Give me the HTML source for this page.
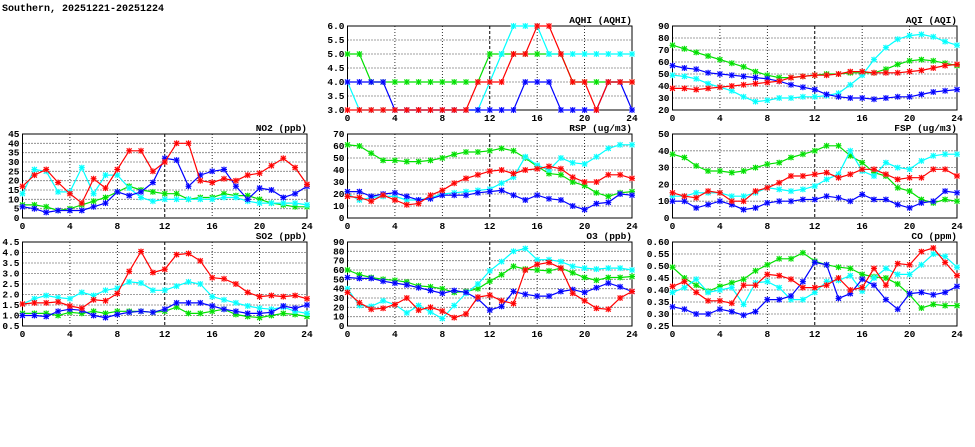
<!DOCTYPE html>
<html><head><meta charset="utf-8"><style>
body{margin:0;background:#fff;}
svg{display:block;font-family:"Liberation Mono",monospace;font-size:9.5px;font-weight:bold;}
</style></head><body>
<svg id="s" width="975" height="447" viewBox="0 0 975 447">
<text x="2" y="11" font-size="10">Southern, 20251221-20251224</text>

<g transform="translate(347.5,26)" id="p0">
<text x="284.5" y="-3" text-anchor="end">AQHI (AQHI)</text>
<g text-anchor="end"><text x="-3" y="87">3.0</text><text x="-3" y="73">3.5</text><text x="-3" y="59">4.0</text><text x="-3" y="45">4.5</text><text x="-3" y="31">5.0</text><text x="-3" y="17">5.5</text><text x="-3" y="3">6.0</text></g>
</g>
<g transform="translate(672.5,26)" id="p1">
<text x="284.5" y="-3" text-anchor="end">AQI (AQI)</text>
<g text-anchor="end"><text x="-3" y="87">20</text><text x="-3" y="75">30</text><text x="-3" y="63">40</text><text x="-3" y="51">50</text><text x="-3" y="39">60</text><text x="-3" y="27">70</text><text x="-3" y="15">80</text><text x="-3" y="3">90</text></g>
</g>
<g transform="translate(22.5,134)" id="p2">
<text x="284.5" y="-3" text-anchor="end">NO2 (ppb)</text>
<g text-anchor="end"><text x="-3" y="87">0</text><text x="-3" y="77.7">5</text><text x="-3" y="68.3">10</text><text x="-3" y="59">15</text><text x="-3" y="49.7">20</text><text x="-3" y="40.3">25</text><text x="-3" y="31">30</text><text x="-3" y="21.7">35</text><text x="-3" y="12.3">40</text><text x="-3" y="3">45</text></g>
</g>
<g transform="translate(347.5,134)" id="p3">
<text x="284.5" y="-3" text-anchor="end">RSP (ug/m3)</text>
<g text-anchor="end"><text x="-3" y="87">0</text><text x="-3" y="75">10</text><text x="-3" y="63">20</text><text x="-3" y="51">30</text><text x="-3" y="39">40</text><text x="-3" y="27">50</text><text x="-3" y="15">60</text><text x="-3" y="3">70</text></g>
</g>
<g transform="translate(672.5,134)" id="p4">
<text x="284.5" y="-3" text-anchor="end">FSP (ug/m3)</text>
<g text-anchor="end"><text x="-3" y="87">0</text><text x="-3" y="70.2">10</text><text x="-3" y="53.4">20</text><text x="-3" y="36.6">30</text><text x="-3" y="19.8">40</text><text x="-3" y="3">50</text></g>
</g>
<g transform="translate(22.5,242)" id="p5">
<text x="284.5" y="-3" text-anchor="end">SO2 (ppb)</text>
<g text-anchor="end"><text x="-3" y="87">0.5</text><text x="-3" y="76.5">1.0</text><text x="-3" y="66">1.5</text><text x="-3" y="55.5">2.0</text><text x="-3" y="45">2.5</text><text x="-3" y="34.5">3.0</text><text x="-3" y="24">3.5</text><text x="-3" y="13.5">4.0</text><text x="-3" y="3">4.5</text></g>
</g>
<g transform="translate(347.5,242)" id="p6">
<text x="284.5" y="-3" text-anchor="end">O3 (ppb)</text>
<g text-anchor="end"><text x="-3" y="87">0</text><text x="-3" y="77.7">10</text><text x="-3" y="68.3">20</text><text x="-3" y="59">30</text><text x="-3" y="49.7">40</text><text x="-3" y="40.3">50</text><text x="-3" y="31">60</text><text x="-3" y="21.7">70</text><text x="-3" y="12.3">80</text><text x="-3" y="3">90</text></g>
</g>
<g transform="translate(672.5,242)" id="p7">
<text x="284.5" y="-3" text-anchor="end">CO (ppm)</text>
<g text-anchor="end"><text x="-3" y="87">0.25</text><text x="-3" y="75">0.30</text><text x="-3" y="63">0.35</text><text x="-3" y="51">0.40</text><text x="-3" y="39">0.45</text><text x="-3" y="27">0.50</text><text x="-3" y="15">0.55</text><text x="-3" y="3">0.60</text></g>
</g>
</svg>
<script>
var W=284.5,H=84,NS="http://www.w3.org/2000/svg";
function el(p,t,a){var e=document.createElementNS(NS,t);for(var k in a)e.setAttribute(k,a[k]);p.appendChild(e);return e;}
var P=[
{min:3,max:6,step:0.5,d:{g:[5,5,4,4,4,4,4,4,4,4,4,4,5,5,5,5,5,5,5,4,4,4,4,4,4],c:[4,3,3,3,3,3,3,3,3,3,3,3,4,5,6,6,6,5,5,5,5,5,5,5,5],b:[4,4,4,4,3,3,3,3,3,3,3,3,3,3,3,4,4,4,3,3,3,3,4,4,3],r:[3,3,3,3,3,3,3,3,3,3,3,4,4,4,5,5,6,6,5,4,4,3,4,4,4]}},
{min:20,max:90,step:10,d:{g:[74,71,68,65,62,59,56,52,49,47,47,48,49,50,50,51,51,51,54,58,61,62,61,59,57],c:[49,48,46,42,39,36,31,27,28,30,30,31,31,32,34,41,49,62,72,79,82,83,81,77,74],b:[57,55,54,51,50,49,48,47,46,44,41,39,37,33,31,30,30,29,30,31,31,33,35,36,37],r:[38,38,37,38,39,40,41,42,43,44,47,48,49,49,50,52,52,51,51,51,52,53,55,57,58]}},
{min:0,max:45,step:5,d:{g:[7,7,6,4,5,7,9,11,14,17,15,14,13,13,10,11,11,13,12,12,10,8,7,6,6],c:[13,26,25,14,14,27,13,23,23,16,11,9,10,10,10,10,10,11,11,9,8,8,8,8,7],b:[6,5,3,4,4,4,6,8,14,12,14,19,32,31,17,23,25,26,17,10,16,15,11,13,17],r:[17,23,26,19,13,8,21,16,26,36,36,25,30,40,40,20,19,21,20,23,24,28,32,27,18]}},
{min:0,max:70,step:10,d:{g:[61,60,54,48,48,47,47,48,50,53,55,55,56,58,56,50,43,37,36,30,27,21,18,21,22],c:[20,15,17,18,18,15,15,17,20,21,22,23,24,29,34,51,44,40,50,46,45,51,58,61,61],b:[22,22,18,20,21,18,15,16,19,19,19,21,22,23,19,15,19,16,15,10,7,12,13,20,19],r:[18,17,14,19,15,11,12,19,23,29,33,36,39,40,37,40,41,43,41,34,30,30,36,36,33]}},
{min:0,max:50,step:10,d:{g:[38,36,31,28,28,27,28,30,32,33,36,38,40,43,43,37,33,27,25,18,16,11,9,11,10],c:[13,13,15,15,15,13,13,15,18,17,16,17,19,23,26,40,28,25,33,30,29,34,37,38,38],b:[10,10,6,8,10,8,5,6,9,10,10,11,11,13,12,10,14,11,11,8,6,9,10,16,15],r:[15,13,12,16,15,10,10,16,18,21,25,25,26,27,24,26,29,29,26,23,24,24,29,29,25]}},
{min:0.5,max:4.5,step:0.5,d:{g:[1.1,1.1,1.1,1.0,1.15,1.1,1.2,1.1,1.2,1.2,1.2,1.15,1.2,1.4,1.1,1.1,1.2,1.3,1.05,0.95,0.9,1.0,1.1,1.05,0.95],c:[1.55,1.8,1.95,1.85,1.8,2.1,1.95,2.2,2.3,2.6,2.55,2.2,2.2,2.4,2.6,2.5,1.9,1.75,1.6,1.45,1.35,1.3,1.4,1.2,1.1],b:[1.0,1.0,0.95,1.2,1.3,1.25,1.0,0.9,1.05,1.15,1.2,1.15,1.3,1.6,1.6,1.6,1.45,1.3,1.2,1.1,1.1,1.15,1.45,1.35,1.5],r:[1.55,1.6,1.6,1.65,1.45,1.35,1.75,1.7,2.05,3.1,4.05,3.05,3.2,3.9,3.95,3.6,2.8,2.75,2.5,2.1,1.9,1.95,1.9,1.95,1.8]}},
{min:0,max:90,step:10,d:{g:[60,55,52,50,49,47,43,42,40,36,37,40,48,55,64,61,60,59,62,57,52,49,52,52,53],c:[40,22,21,27,23,14,22,15,8,22,35,45,59,69,80,83,71,71,69,64,62,61,62,62,60],b:[52,51,51,48,46,44,41,38,35,38,36,29,17,21,37,34,32,32,37,39,36,41,46,42,37],r:[36,25,18,19,23,30,17,20,16,9,13,31,33,27,24,60,66,68,62,35,27,19,18,30,37]}},
{min:0.25,max:0.6,step:0.05,d:{g:[0.495,0.45,0.42,0.395,0.415,0.43,0.445,0.48,0.505,0.53,0.53,0.555,0.52,0.505,0.495,0.49,0.465,0.455,0.45,0.425,0.38,0.325,0.34,0.335,0.335],c:[0.39,0.41,0.445,0.39,0.4,0.41,0.34,0.43,0.435,0.41,0.36,0.36,0.39,0.435,0.44,0.46,0.395,0.45,0.49,0.465,0.465,0.505,0.55,0.54,0.495],b:[0.33,0.32,0.3,0.3,0.32,0.31,0.295,0.31,0.36,0.36,0.375,0.435,0.515,0.505,0.365,0.385,0.445,0.42,0.36,0.32,0.385,0.39,0.38,0.39,0.415],r:[0.415,0.435,0.39,0.355,0.355,0.345,0.42,0.42,0.465,0.46,0.445,0.41,0.41,0.42,0.45,0.4,0.41,0.49,0.42,0.51,0.505,0.56,0.575,0.515,0.46]}}
];
var COL={g:"#00e000",c:"#00ffff",b:"#0000ff",r:"#ff0000"},LT={g:"#90f090",c:"#a0ffff",b:"#9090ff",r:"#ff9090"};
P.forEach(function(p,i){
 var g=document.getElementById("p"+i);
 var first=g.firstChild;
 var gg=document.createElementNS(NS,"g");g.insertBefore(gg,first);
 var n=Math.round((p.max-p.min)/p.step);
 for(var k=1;k<n;k++){var y=H-k*H/n;el(gg,"line",{x1:0,x2:W,y1:y,y2:y,stroke:"#000","stroke-width":0.8,"stroke-dasharray":"1,2"});}
 for(var k=1;k<6;k++){var x=k*W/6;el(gg,"line",{x1:x,x2:x,y1:0,y2:H,stroke:"#000","stroke-width":k==3?1:0.8,"stroke-dasharray":k==3?"3,2":"1,2"});}
 el(gg,"rect",{x:0,y:0,width:W,height:H,fill:"none",stroke:"#000","stroke-width":1});
 ["g","c","b","r"].forEach(function(s){
  var v=p.d[s],pts=[];
  for(var j=0;j<25;j++){var x=j*W/24,y=H-(v[j]-p.min)/(p.max-p.min)*H;pts.push(x.toFixed(1)+","+y.toFixed(1));}
  el(gg,"polyline",{points:pts.join(" "),fill:"none",stroke:COL[s],"stroke-width":1.2});
  pts.forEach(function(q){var a=q.split(","),x=+a[0],y=+a[1];
   el(gg,"rect",{x:x-2.5,y:y-2.5,width:5,height:5,fill:LT[s],opacity:0.7});
   el(gg,"path",{d:"M"+(x-2.5)+" "+(y-2.5)+"l5 5M"+(x-2.5)+" "+(y+2.5)+"l5 -5M"+x+" "+(y-3)+"v6M"+(x-3)+" "+y+"h6",stroke:COL[s],"stroke-width":1});});
 });
});
</script>
<svg width="975" height="447" style="position:absolute;left:0;top:0;font-family:'Liberation Mono',monospace;font-size:9.5px;font-weight:bold" text-anchor="middle">
<g transform="translate(22.5,229)"><text x="0" y="0">0</text><text x="47.4" y="0">4</text><text x="94.8" y="0">8</text><text x="142.25" y="0">12</text><text x="189.7" y="0">16</text><text x="237.1" y="0">20</text><text x="284.5" y="0">24</text></g>
<g transform="translate(347.5,121)"><text x="0" y="0">0</text><text x="47.4" y="0">4</text><text x="94.8" y="0">8</text><text x="142.25" y="0">12</text><text x="189.7" y="0">16</text><text x="237.1" y="0">20</text><text x="284.5" y="0">24</text></g>
<g transform="translate(672.5,121)"><text x="0" y="0">0</text><text x="47.4" y="0">4</text><text x="94.8" y="0">8</text><text x="142.25" y="0">12</text><text x="189.7" y="0">16</text><text x="237.1" y="0">20</text><text x="284.5" y="0">24</text></g>
<g transform="translate(347.5,229)"><text x="0" y="0">0</text><text x="47.4" y="0">4</text><text x="94.8" y="0">8</text><text x="142.25" y="0">12</text><text x="189.7" y="0">16</text><text x="237.1" y="0">20</text><text x="284.5" y="0">24</text></g>
<g transform="translate(672.5,229)"><text x="0" y="0">0</text><text x="47.4" y="0">4</text><text x="94.8" y="0">8</text><text x="142.25" y="0">12</text><text x="189.7" y="0">16</text><text x="237.1" y="0">20</text><text x="284.5" y="0">24</text></g>
<g transform="translate(22.5,337)"><text x="0" y="0">0</text><text x="47.4" y="0">4</text><text x="94.8" y="0">8</text><text x="142.25" y="0">12</text><text x="189.7" y="0">16</text><text x="237.1" y="0">20</text><text x="284.5" y="0">24</text></g>
<g transform="translate(347.5,337)"><text x="0" y="0">0</text><text x="47.4" y="0">4</text><text x="94.8" y="0">8</text><text x="142.25" y="0">12</text><text x="189.7" y="0">16</text><text x="237.1" y="0">20</text><text x="284.5" y="0">24</text></g>
<g transform="translate(672.5,337)"><text x="0" y="0">0</text><text x="47.4" y="0">4</text><text x="94.8" y="0">8</text><text x="142.25" y="0">12</text><text x="189.7" y="0">16</text><text x="237.1" y="0">20</text><text x="284.5" y="0">24</text></g>
</svg>
</body></html>
